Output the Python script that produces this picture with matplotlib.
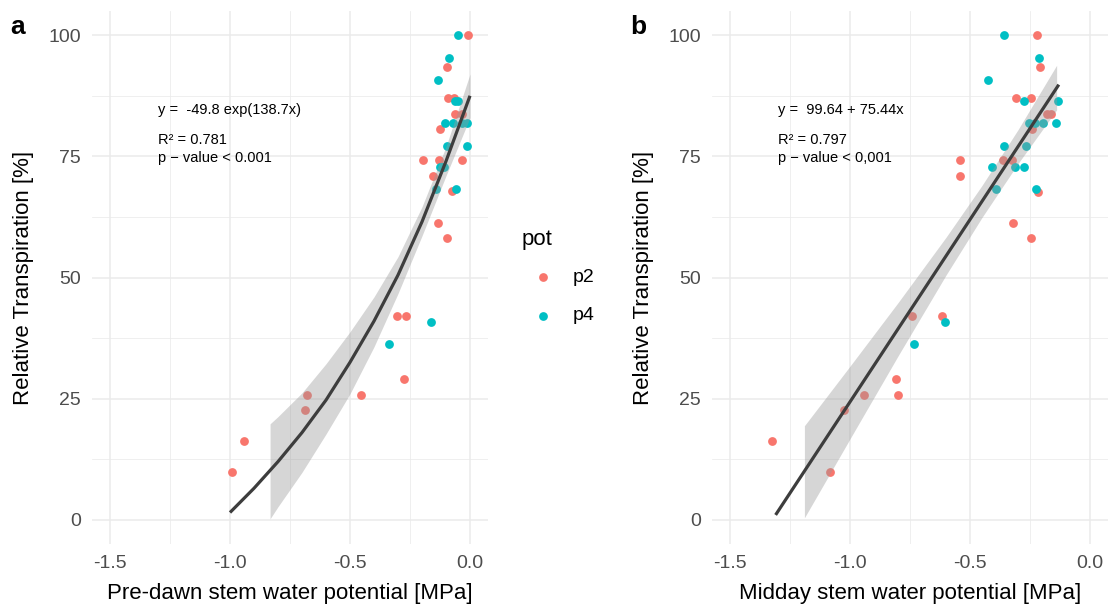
import matplotlib.pyplot as plt
from matplotlib.lines import Line2D
import numpy as np

plt.rcParams['font.family'] = ['Liberation Sans', 'DejaVu Sans']

# ---- panel a: pre-dawn stem water potential ----
pd_p2_x = [-0.007, -0.096, -0.09, -0.067, -0.0625, -0.035, -0.125, -0.194, -0.128, -0.035, -0.156,
           -0.076, -0.132, -0.095, -0.305, -0.267, -0.275, -0.68, -0.454, -0.686, -0.94, -0.99]
pd_p2_y = [100, 93.5, 87, 87, 83.8, 83.8, 80.6, 74.2, 74.2, 74.2, 70.9,
           67.8, 61.2, 58.1, 42, 42, 29.1, 25.8, 25.8, 22.7, 16.3, 9.8]
pd_p4_x = [-0.051, -0.0875, -0.132, -0.0625, -0.049, -0.104, -0.069, -0.035, -0.014, -0.097, -0.014,
           -0.125, -0.11, -0.118, -0.143, -0.06, -0.1625, -0.339]
pd_p4_y = [100, 95.3, 90.8, 86.4, 86.4, 81.8, 81.8, 81.8, 81.8, 77.2, 77.2,
           72.8, 72.8, 72.8, 68.2, 68.2, 40.9, 36.3]
pd_fit_x = [-1.0, -0.9, -0.8, -0.7, -0.6, -0.5, -0.4, -0.3, -0.2, -0.1, 0.0]
pd_fit_y = [1.5, 6.5, 12.0, 18.0, 24.7, 32.5, 41.0, 50.5, 61.5, 74.0, 87.5]
pd_band_x = [-0.833, -0.8, -0.7, -0.6, -0.5, -0.4, -0.3, -0.2, -0.1, 0.0]
pd_band_lo = [0.2, 2.7, 9.8, 17.7, 26.0, 35.7, 46.7, 58.6, 71.0, 83.0]
pd_band_hi = [19.8, 21.3, 26.2, 32.2, 38.8, 46.0, 54.3, 64.6, 77.0, 92.0]
pd_text = ['y =  -49.8 exp(138.7x)', 'R² = 0.781', 'p \u2212 value < 0.001']

# ---- panel b: midday stem water potential ----
md_p2_x = [-0.22, -0.21, -0.31, -0.247, -0.18, -0.164, -0.243, -0.54, -0.361, -0.326, -0.54,
           -0.218, -0.322, -0.247, -0.74, -0.615, -0.808, -0.94, -0.8, -1.025, -1.325, -1.083]
md_p2_y = [100, 93.5, 87, 87, 83.8, 83.8, 80.6, 74.2, 74.2, 74.2, 70.9,
           67.7, 61.2, 58.1, 42, 42, 29.1, 25.8, 25.8, 22.7, 16.3, 9.8]
md_p4_x = [-0.358, -0.214, -0.424, -0.276, -0.132, -0.253, -0.229, -0.194, -0.142, -0.358, -0.268,
           -0.407, -0.3125, -0.275, -0.393, -0.225, -0.605, -0.732]
md_p4_y = [100, 95.3, 90.8, 86.4, 86.4, 81.8, 81.8, 81.8, 81.8, 77.1, 77.1,
           72.8, 72.8, 72.8, 68.2, 68.2, 40.9, 36.3]
md_fit_x = [-1.31, -0.13]
md_fit_y = [1.0, 89.8]
md_band_x = [-1.19, -1.0, -0.8, -0.6, -0.45, -0.3, -0.139]
md_band_lo = [0.4, 16.7, 33.8, 50.5, 62.4, 73.5, 84.6]
md_band_hi = [19.4, 31.7, 44.8, 58.3, 69.0, 80.5, 93.8]
md_text = ['y =  99.64 + 75.44x', 'R² = 0.797', 'p \u2212 value < 0,001']

x_ticks = [-1.5, -1.0, -0.5, 0.0]
x_ticklabels = ['-1.5', '-1.0', '-0.5', '0.0']
y_ticks = [0, 25, 50, 75, 100]

c_p2 = '#F8766D'
c_p4 = '#00BFC4'

fig = plt.figure(figsize=(11.08, 6.06), dpi=100)
ax_a = fig.add_axes([92 / 1108, 1 - 544 / 606, 396 / 1108, 533 / 606])
ax_b = fig.add_axes([712 / 1108, 1 - 544 / 606, 396 / 1108, 533 / 606])

panels = [
    (ax_a, pd_p2_x, pd_p2_y, pd_p4_x, pd_p4_y, pd_fit_x, pd_fit_y, pd_band_x, pd_band_lo, pd_band_hi,
     pd_text, 'Pre-dawn stem water potential [MPa]'),
    (ax_b, md_p2_x, md_p2_y, md_p4_x, md_p4_y, md_fit_x, md_fit_y, md_band_x, md_band_lo, md_band_hi,
     md_text, 'Midday stem water potential [MPa]'),
]

for ax, p2x, p2y, p4x, p4y, fx, fy, bx, blo, bhi, txt, xlab in panels:
    ax.scatter(p2x, p2y, s=40, color=c_p2, linewidths=0, zorder=2)
    ax.scatter(p4x, p4y, s=40, color=c_p4, linewidths=0, zorder=2)
    ax.fill_between(bx, blo, bhi, color='#999999', alpha=0.4, linewidth=0, zorder=3)
    ax.plot(fx, fy, color='#3D3D3D', lw=2.3, zorder=4, solid_capstyle='butt')

    ax.set_xlim(-1.575, 0.075)
    ax.set_ylim(-5, 105)
    ax.set_xticks(x_ticks)
    ax.set_xticklabels(x_ticklabels)
    ax.set_yticks(y_ticks)
    ax.set_xticks([-1.25, -0.75, -0.25], minor=True)
    ax.set_yticks([12.5, 37.5, 62.5, 87.5], minor=True)
    ax.grid(which='major', color='#EBEBEB', lw=1.1, zorder=0)
    ax.grid(which='minor', color='#EBEBEB', lw=0.55, zorder=0)
    ax.set_axisbelow(True)
    for s in ax.spines.values():
        s.set_visible(False)
    ax.tick_params(which='both', length=0, labelsize=14, labelcolor='#4D4D4D', pad=8)

    ax.set_xlabel(xlab, fontsize=16)
    ax.xaxis.set_label_coords(0.5, -0.092)
    ax.xaxis.label.set_va('center')
    ax.set_ylabel('Relative Transpiration [%]', fontsize=16)
    ax.yaxis.label.set_va('center')
    ax.yaxis.set_label_coords(-0.172, 0.5)

    for t, yy in zip(txt, [83.8, 77.6, 73.8]):
        ax.text(-1.299, yy, t, fontsize=10.5, ha='left', va='baseline', color='black', zorder=5)

fig.text(17.5 / 1108, 1 - 27 / 606, 'a', fontsize=19, fontweight='bold', ha='center', va='center')
fig.text(638 / 1108, 1 - 27 / 606, 'b', fontsize=19, fontweight='bold', ha='center', va='center')

# legend
fig.text(522 / 1108, 1 - 240 / 606, 'pot', fontsize=16, ha='left', va='center')
for lab, col, yy in [('p2', c_p2, 277), ('p4', c_p4, 316)]:
    fig.add_artist(Line2D([543 / 1108], [1 - yy / 606], marker='o', markersize=6.3, color=col,
                          markeredgewidth=0, linestyle='none', transform=fig.transFigure))
    fig.text(573 / 1108, 1 - yy / 606, lab, fontsize=14, ha='left', va='center')

fig.savefig('out.png', dpi=100)
